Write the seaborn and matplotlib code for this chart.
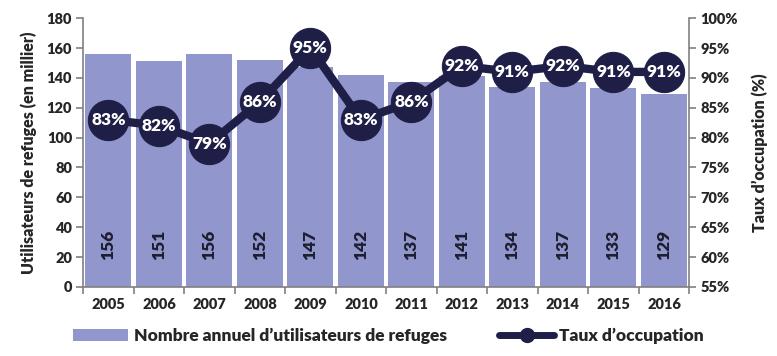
import numpy as np
import pandas as pd
import matplotlib
matplotlib.use("Agg")
import matplotlib.pyplot as plt
import seaborn as sns
from matplotlib.lines import Line2D
from matplotlib.patches import Patch

years = ["2005", "2006", "2007", "2008", "2009", "2010", "2011", "2012", "2013", "2014", "2015", "2016"]
users = [156, 151, 156, 152, 147, 142, 137, 141, 134, 137, 133, 129]
rates = [83, 82, 79, 86, 95, 83, 86, 92, 91, 92, 91, 91]
left_ticks = list(range(0, 181, 20))
right_ticks = list(range(55, 101, 5))

bar_color = "#9196CC"
line_color = "#1E1E46"
axis_grey = "#808080"

sns.set_theme(style="white")
plt.rcParams['font.family'] = ['Lato', 'DejaVu Sans']
plt.rcParams['font.weight'] = 'bold'

fig = plt.figure(figsize=(7.77, 3.56), dpi=100)
ax = fig.add_axes([0.107, 0.194, 0.780, 0.755])

df = pd.DataFrame({"year": years, "users": users, "rate": rates})
sns.barplot(data=df, x="year", y="users", ax=ax, color=bar_color, width=0.91,
            saturation=1, edgecolor="none")
ax.set_xlim(-0.5, len(years) - 0.5)
ax.set_ylim(0, 180)
ax.set_yticks(left_ticks)
ax.set_yticklabels([str(t) for t in left_ticks], fontsize=10.5, fontweight='heavy')
ax.set_xticks(range(len(years)))
ax.set_xticklabels(years, fontsize=10.5, fontweight='heavy')
ax.set_xticks(np.arange(-0.5, len(years)), minor=True)
ax.tick_params(axis='x', which='major', length=0, pad=8)
ax.tick_params(axis='x', which='minor', length=5, color=axis_grey, width=1.2, direction='out', bottom=True)
ax.tick_params(axis='y', length=5, color=axis_grey, width=1.2, direction='out', left=True, pad=3)
ax.set_xlabel("")
ax.set_ylabel("Utilisateurs de refuges (en millier)", fontsize=11.5, fontweight='heavy', labelpad=7)

for i, v in enumerate(users):
    ax.text(i, 28, str(v), rotation=90, ha='center', va='center', fontsize=12.5,
            fontweight='heavy', color="#1E1E30")

ax2 = ax.twinx()
sns.lineplot(x=np.arange(len(years)), y=rates, ax=ax2, color=line_color, linewidth=6,
             marker='o', markersize=29, markeredgecolor=line_color, markerfacecolor=line_color)
ax2.set_ylim(55, 100)
ax2.set_yticks(right_ticks)
ax2.set_yticklabels([f"{t}%" for t in right_ticks], fontsize=10.5, fontweight='heavy')
ax2.tick_params(axis='y', length=5, color=axis_grey, width=1.2, direction='out', right=True, pad=3)
ax2.set_ylabel("Taux d’occupation (%)", fontsize=11.5, fontweight='heavy', labelpad=10)
for i, r in enumerate(rates):
    ax2.text(i, r, f"{r}%", ha='center', va='center', fontsize=12.5,
             fontweight='heavy', color='white')

for a in (ax, ax2):
    for s in a.spines.values():
        s.set_visible(False)
ax.spines['left'].set_visible(True)
ax.spines['bottom'].set_visible(True)
ax2.spines['right'].set_visible(True)
for a, side in ((ax, 'left'), (ax, 'bottom'), (ax2, 'right')):
    a.spines[side].set_color(axis_grey)
    a.spines[side].set_linewidth(1.2)

handles = [Patch(facecolor=bar_color, edgecolor='none'),
           Line2D([0], [0], color=line_color, linewidth=5, marker='o', markersize=10)]
fig.legend(handles, ["Nombre annuel d’utilisateurs de refuges", "Taux d’occupation"],
           loc='lower center', bbox_to_anchor=(0.5, -0.01), ncol=2, frameon=False,
           prop={'size': 12.5, 'weight': 'heavy'}, handlelength=3.2, columnspacing=3,
           handletextpad=0.3)

fig.savefig("out.png", dpi=100)
